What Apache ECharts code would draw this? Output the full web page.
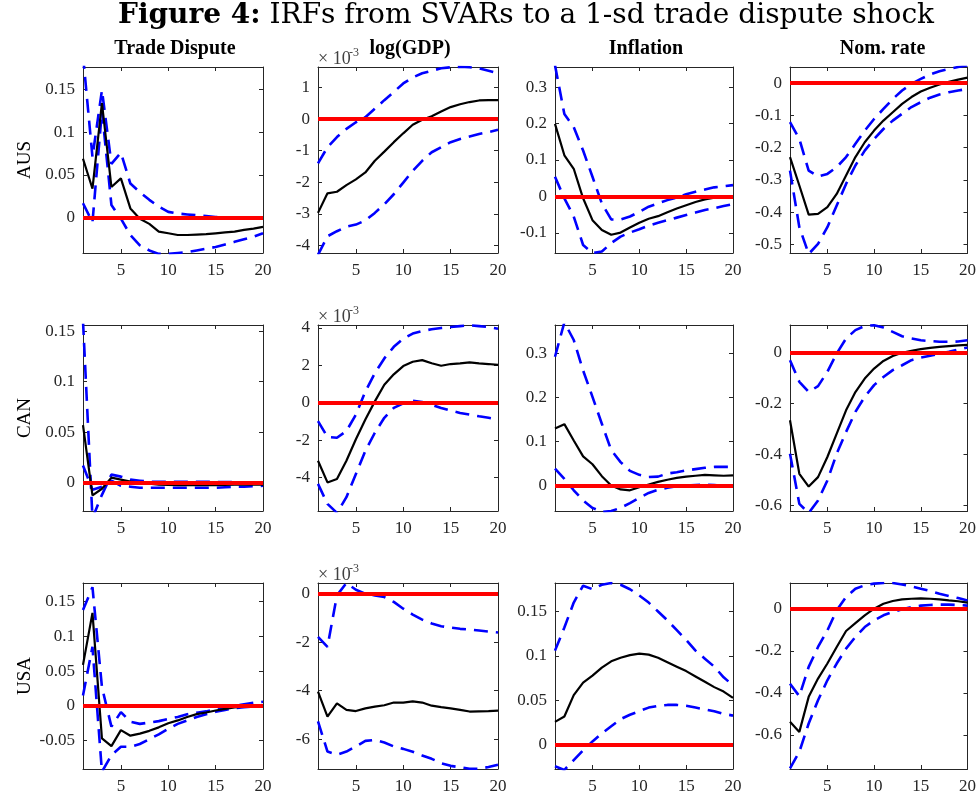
<!DOCTYPE html>
<html>
<head>
<meta charset="utf-8">
<script src="https://cdn.jsdelivr.net/npm/echarts@6/dist/echarts.min.js"></script>
<style>
html, body { margin: 0; padding: 0; background: #fff; }
#chart { width: 979px; height: 797px; }
</style>
</head>
<body>
<div id="chart"></div>
<script>
// horizons (quarters after the shock)
var horizons = [1, 2, 3, 4, 5, 6, 7, 8, 9, 10, 11, 12, 13, 14, 15, 16, 17, 18, 19, 20];
var xTicks = [5, 10, 15, 20];

var countries = ['AUS', 'CAN', 'USA'];
var variables = ['Trade Dispute', 'log(GDP)', 'Inflation', 'Nom. rate'];

// AUS
var ausTradeMed = [0.069, 0.034, 0.134, 0.036, 0.046, 0.011, -0.001, -0.007, -0.016, -0.018, -0.020, -0.020, -0.0195, -0.019, -0.018, -0.017, -0.016, -0.014, -0.0125, -0.0105];
var ausTradeLo = [0.017, -0.005, 0.125, 0.015, -0.001, -0.020, -0.032, -0.038, -0.042, -0.042, -0.041, -0.040, -0.038, -0.036, -0.034, -0.031, -0.028, -0.025, -0.022, -0.018];
var ausTradeHi = [0.19, 0.071, 0.149, 0.063, 0.076, 0.040, 0.030, 0.021, 0.013, 0.007, 0.005, 0.004, 0.003, 0.002, 0.001, 0.0005, 0, 0, -0.0005, -0.001];
// log(GDP) values are in units of 1e-3
var ausGdpMed = [-2.97, -2.35, -2.30, -2.09, -1.91, -1.69, -1.32, -1.03, -0.73, -0.45, -0.18, -0.02, 0.09, 0.24, 0.38, 0.47, 0.54, 0.59, 0.60, 0.60];
var ausGdpLo = [-4.3, -3.71, -3.55, -3.41, -3.34, -3.21, -2.97, -2.70, -2.38, -2.01, -1.64, -1.32, -1.05, -0.89, -0.73, -0.63, -0.55, -0.47, -0.41, -0.34];
var ausGdpHi = [-1.40, -0.89, -0.57, -0.31, -0.10, 0.06, 0.33, 0.60, 0.86, 1.13, 1.32, 1.45, 1.53, 1.61, 1.64, 1.66, 1.64, 1.61, 1.53, 1.45];
var ausInflMed = [0.199, 0.113, 0.076, -0.005, -0.065, -0.092, -0.105, -0.099, -0.085, -0.072, -0.061, -0.054, -0.043, -0.033, -0.024, -0.015, -0.008, -0.003, -0.001, 0];
var ausInflLo = [0.054, -0.005, -0.055, -0.133, -0.155, -0.151, -0.128, -0.110, -0.099, -0.090, -0.080, -0.072, -0.065, -0.058, -0.051, -0.044, -0.037, -0.032, -0.026, -0.021];
var ausInflHi = [0.36, 0.226, 0.19, 0.126, 0.054, -0.019, -0.063, -0.063, -0.055, -0.042, -0.028, -0.019, -0.010, -0.003, 0.006, 0.013, 0.019, 0.025, 0.028, 0.031];
var ausRateMed = [-0.229, -0.317, -0.407, -0.405, -0.384, -0.343, -0.286, -0.229, -0.183, -0.147, -0.116, -0.090, -0.064, -0.043, -0.026, -0.014, -0.004, 0.004, 0.011, 0.017];
var ausRateLo = [-0.271, -0.446, -0.529, -0.498, -0.446, -0.379, -0.312, -0.255, -0.209, -0.173, -0.142, -0.116, -0.095, -0.074, -0.059, -0.045, -0.035, -0.028, -0.023, -0.018];
var ausRateHi = [-0.121, -0.173, -0.271, -0.289, -0.281, -0.260, -0.229, -0.188, -0.147, -0.111, -0.080, -0.049, -0.023, -0.002, 0.013, 0.027, 0.037, 0.044, 0.050, 0.055];

// CAN
var canTradeMed = [0.057, -0.0125, -0.006, 0.005, 0.003, 0.001, 0, -0.001, -0.002, -0.0023, -0.0025, -0.0025, -0.0025, -0.0025, -0.0025, -0.0022, -0.002, -0.002, -0.002, -0.002];
var canTradeLo = [0.017, -0.007, -0.004, 0.002, -0.003, -0.004, -0.005, -0.005, -0.005, -0.005, -0.005, -0.005, -0.005, -0.005, -0.005, -0.0045, -0.004, -0.004, -0.0035, -0.003];
var canTradeHi = [0.16, -0.035, -0.012, 0.008, 0.006, 0.003, 0.002, 0.001, 0.001, 0.001, 0.001, 0.001, 0.001, 0.001, 0.0008, 0.0006, 0.0005, 0.0004, 0.0003, 0.0003];
var canGdpMed = [-3.11, -4.27, -4.09, -3.11, -1.96, -0.90, 0.07, 0.96, 1.52, 1.96, 2.19, 2.28, 2.11, 1.98, 2.07, 2.11, 2.16, 2.11, 2.07, 2.02];
var canGdpLo = [-4.35, -5.42, -5.9, -5.06, -3.82, -2.58, -1.61, -0.81, -0.28, -0.04, 0.11, 0.04, -0.11, -0.28, -0.42, -0.55, -0.64, -0.73, -0.81, -0.90];
var canGdpHi = [-0.99, -1.84, -1.88, -1.52, -0.64, 0.60, 1.58, 2.37, 2.99, 3.43, 3.70, 3.84, 3.93, 4.00, 4.05, 4.10, 4.14, 4.10, 4.05, 3.96];
var canInflMed = [0.129, 0.139, 0.102, 0.066, 0.048, 0.021, 0, -0.009, -0.011, -0.004, 0.002, 0.008, 0.013, 0.017, 0.020, 0.022, 0.024, 0.023, 0.022, 0.023];
var canInflLo = [0.038, 0.015, -0.011, -0.034, -0.051, -0.060, -0.058, -0.051, -0.040, -0.028, -0.017, -0.010, -0.005, -0.002, 0, 0.001, 0.002, 0.001, -0.001, -0.002];
var canInflHi = [0.292, 0.37, 0.33, 0.261, 0.201, 0.140, 0.080, 0.053, 0.033, 0.024, 0.019, 0.020, 0.027, 0.030, 0.034, 0.037, 0.040, 0.042, 0.042, 0.042];
var canRateMed = [-0.266, -0.476, -0.526, -0.489, -0.410, -0.318, -0.227, -0.155, -0.102, -0.063, -0.033, -0.014, -0.001, 0.007, 0.013, 0.018, 0.022, 0.025, 0.028, 0.030];
var canRateLo = [-0.397, -0.594, -0.63, -0.581, -0.502, -0.397, -0.312, -0.233, -0.174, -0.128, -0.096, -0.069, -0.050, -0.030, -0.020, -0.013, -0.004, 0.003, 0.012, 0.020];
var canRateHi = [-0.030, -0.115, -0.155, -0.132, -0.076, -0.004, 0.055, 0.088, 0.104, 0.107, 0.098, 0.081, 0.064, 0.055, 0.048, 0.045, 0.042, 0.042, 0.043, 0.048];

// USA
var usaTradeMed = [0.059, 0.134, -0.047, -0.058, -0.035, -0.043, -0.040, -0.036, -0.031, -0.025, -0.021, -0.016, -0.012, -0.0096, -0.0067, -0.0043, -0.0024, -0.001, -0.0005, 0];
var usaTradeLo = [0.015, 0.085, -0.095, -0.071, -0.059, -0.059, -0.055, -0.048, -0.041, -0.033, -0.026, -0.021, -0.016, -0.012, -0.0086, -0.0058, -0.0034, -0.0019, -0.001, 0];
var usaTradeHi = [0.138, 0.171, 0.027, -0.030, -0.009, -0.023, -0.026, -0.024, -0.022, -0.019, -0.016, -0.012, -0.010, -0.008, -0.005, -0.002, 0, 0.0024, 0.0043, 0.0058];
var usaGdpMed = [-4.04, -5.07, -4.52, -4.79, -4.84, -4.73, -4.66, -4.60, -4.49, -4.49, -4.44, -4.49, -4.62, -4.68, -4.73, -4.79, -4.86, -4.85, -4.84, -4.82];
var usaGdpLo = [-5.27, -6.51, -6.64, -6.51, -6.30, -6.07, -6.03, -6.14, -6.30, -6.40, -6.52, -6.67, -6.81, -6.99, -7.10, -7.16, -7.22, -7.22, -7.15, -7.05];
var usaGdpHi = [-1.78, -2.19, -0.07, 0.44, 0.16, 0, -0.07, -0.14, -0.34, -0.62, -0.86, -1.07, -1.23, -1.34, -1.40, -1.45, -1.48, -1.52, -1.56, -1.60];
var usaInflMed = [0.026, 0.032, 0.056, 0.070, 0.078, 0.087, 0.094, 0.098, 0.101, 0.1026, 0.1015, 0.098, 0.093, 0.088, 0.083, 0.077, 0.071, 0.065, 0.060, 0.053];
var usaInflLo = [-0.024, -0.028, -0.017, -0.006, 0.004, 0.013, 0.021, 0.029, 0.034, 0.038, 0.042, 0.044, 0.045, 0.045, 0.044, 0.042, 0.040, 0.038, 0.035, 0.033];
var usaInflHi = [0.106, 0.132, 0.160, 0.179, 0.175, 0.180, 0.182, 0.180, 0.175, 0.168, 0.160, 0.150, 0.140, 0.129, 0.118, 0.106, 0.097, 0.088, 0.076, 0.067];
var usaRateMed = [-0.538, -0.586, -0.419, -0.332, -0.260, -0.181, -0.105, -0.067, -0.030, 0.0016, 0.025, 0.038, 0.046, 0.049, 0.051, 0.049, 0.046, 0.041, 0.037, 0.030];
var usaRateLo = [-0.76, -0.681, -0.546, -0.435, -0.340, -0.260, -0.189, -0.133, -0.086, -0.054, -0.030, -0.014, -0.0016, 0.0095, 0.016, 0.019, 0.021, 0.021, 0.019, 0.016];
var usaRateHi = [-0.356, -0.416, -0.276, -0.181, -0.102, -0.006, 0.057, 0.097, 0.113, 0.121, 0.124, 0.124, 0.117, 0.108, 0.097, 0.086, 0.073, 0.062, 0.052, 0.041];

// y tick labels, one list per panel (row by row)
var yTicks = [
    [0, 0.05, 0.1, 0.15], [-4, -3, -2, -1, 0, 1], [-0.1, 0, 0.1, 0.2, 0.3], [-0.5, -0.4, -0.3, -0.2, -0.1, 0],
    [0, 0.05, 0.1, 0.15], [-4, -2, 0, 2, 4], [0, 0.1, 0.2, 0.3], [-0.6, -0.4, -0.2, 0],
    [-0.05, 0, 0.05, 0.1, 0.15], [-6, -4, -2, 0], [0, 0.05, 0.1, 0.15], [-0.6, -0.4, -0.2, 0]
];
var yMin = [-0.041, -4.24, -0.155, -0.526, -0.028, -5.8, -0.058, -0.622, -0.091, -7.23, -0.027, -0.763];
var yMax = [0.176, 1.65, 0.355, 0.05, 0.156, 4.16, 0.364, 0.108, 0.177, 0.44, 0.182, 0.124];

var panels = [
    [ausTradeMed, ausTradeLo, ausTradeHi], [ausGdpMed, ausGdpLo, ausGdpHi], [ausInflMed, ausInflLo, ausInflHi], [ausRateMed, ausRateLo, ausRateHi],
    [canTradeMed, canTradeLo, canTradeHi], [canGdpMed, canGdpLo, canGdpHi], [canInflMed, canInflLo, canInflHi], [canRateMed, canRateLo, canRateHi],
    [usaTradeMed, usaTradeLo, usaTradeHi], [usaGdpMed, usaGdpLo, usaGdpHi], [usaInflMed, usaInflLo, usaInflHi], [usaRateMed, usaRateLo, usaRateHi]
];

var colLeft = [83, 318, 555, 790];
var colWidth = [180, 180, 178, 181];
var rowTop = [67, 325, 583];
var rowHeight = 186;

var serif = '"Liberation Serif", "Times New Roman", serif';
var axisColor = '#262626';
var dash = [14, 8];

function pairs(values) {
    return horizons.map(function (h, i) { return [h, values[i]]; });
}

var grids = [], xAxes = [], yAxes = [], series = [];

for (var i = 0; i < panels.length; i++) {
    var r = Math.floor(i / 4), c = i % 4;
    grids.push({ left: colLeft[c], top: rowTop[r], width: colWidth[c], height: rowHeight });

    ['bottom', 'top'].forEach(function (pos) {
        xAxes.push({
            gridIndex: i, type: 'value', min: 1, max: 20, position: pos,
            axisLine: { show: true, onZero: false, lineStyle: { color: axisColor, width: 1 } },
            axisTick: { show: true, inside: true, length: 4, customValues: xTicks, lineStyle: { color: axisColor } },
            axisLabel: { show: pos === 'bottom', customValues: xTicks, margin: 9, color: axisColor, fontFamily: serif, fontSize: 17 },
            splitLine: { show: false }
        });
    });
    ['left', 'right'].forEach(function (pos) {
        yAxes.push({
            gridIndex: i, type: 'value', min: yMin[i], max: yMax[i], position: pos,
            axisLine: { show: true, onZero: false, lineStyle: { color: axisColor, width: 1 } },
            axisTick: { show: true, inside: true, length: 4, customValues: yTicks[i], lineStyle: { color: axisColor } },
            axisLabel: { show: pos === 'left', customValues: yTicks[i], margin: 8, color: axisColor, fontFamily: serif, fontSize: 17 },
            splitLine: { show: false }
        });
    });

    var ax = 2 * i;
    var med = panels[i][0], lo = panels[i][1], hi = panels[i][2];
    series.push({
        type: 'line', xAxisIndex: ax, yAxisIndex: ax, data: pairs(med), symbol: 'none', z: 3,
        lineStyle: { color: '#000', width: 2.2 }
    });
    series.push({
        type: 'line', xAxisIndex: ax, yAxisIndex: ax, data: pairs(lo), symbol: 'none', z: 2,
        lineStyle: { color: '#0000ff', width: 2.6, type: dash }
    });
    series.push({
        type: 'line', xAxisIndex: ax, yAxisIndex: ax, data: pairs(hi), symbol: 'none', z: 2,
        lineStyle: { color: '#0000ff', width: 2.6, type: dash }
    });
    // zero line
    series.push({
        type: 'line', xAxisIndex: ax, yAxisIndex: ax, data: [], symbol: 'none', z: 4,
        markLine: {
            silent: true, symbol: 'none', label: { show: false },
            lineStyle: { color: '#ff0000', width: 4, type: 'solid' },
            data: [{ yAxis: 0 }]
        }
    });
}

var graphics = [];
graphics.push({
    type: 'text', left: 118, top: 2,
    style: {
        text: '{b|Figure 4:} IRFs from SVARs to a 1-sd trade dispute shock',
        fontFamily: '"DejaVu Serif", serif', fontSize: 28, fill: '#000',
        rich: { b: { fontFamily: '"DejaVu Serif", serif', fontSize: 28, fontWeight: 'bold' } }
    }
});
variables.forEach(function (name, c) {
    graphics.push({
        type: 'text', x: colLeft[c] + colWidth[c] / 2 + 2, y: 49,
        style: { text: name, fontFamily: serif, fontSize: 20, fontWeight: 'bold', fill: '#000', align: 'center', verticalAlign: 'middle' }
    });
});
countries.forEach(function (name, r) {
    graphics.push({
        type: 'text', x: 25, y: rowTop[r] + rowHeight / 2, rotation: Math.PI / 2,
        style: { text: name, fontFamily: serif, fontSize: 19, fill: '#000', align: 'center', verticalAlign: 'middle' }
    });
    // x 10^-3 exponent above the GDP panels
    graphics.push({
        type: 'text', x: 318, y: rowTop[r] - 8,
        style: { text: '\u00d7 10', fontFamily: serif, fontSize: 18, fill: '#404040', align: 'left', verticalAlign: 'middle' }
    });
    graphics.push({
        type: 'text', x: 349, y: rowTop[r] - 14,
        style: { text: '-3', fontFamily: serif, fontSize: 12, fill: '#404040', align: 'left', verticalAlign: 'middle' }
    });
});

var myChart = echarts.init(document.getElementById('chart'));
myChart.setOption({
    animation: false,
    backgroundColor: '#fff',
    grid: grids,
    xAxis: xAxes,
    yAxis: yAxes,
    series: series,
    graphic: graphics
});
</script>
</body>
</html>
